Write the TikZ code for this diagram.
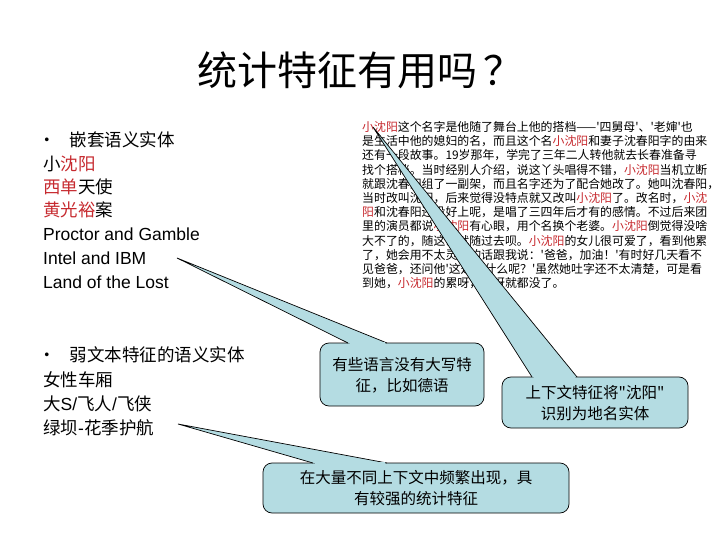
\documentclass[tikz,border=0pt]{standalone}
\usepackage{fontspec}
\setmainfont{Liberation Sans}
\newfontfamily\cjk{Noto Sans CJK SC}
\definecolor{cfill}{HTML}{B4DCE2}
\definecolor{hred}{HTML}{C62A2F}
\newcommand{\rd}[1]{\textcolor{hred}{#1}}
\begin{document}
\begin{tikzpicture}[x=1pt,y=-1pt,
  para/.style={anchor=west,inner sep=0,font=\cjk\fontsize{11.9}{12}\selectfont},
  lft/.style={anchor=west,inner sep=0,font=\cjk\fontsize{17.5}{20}\selectfont},
  lat/.style={anchor=west,inner sep=0,font=\fontsize{17.5}{20}\selectfont},
  ctext/.style={align=center,inner sep=0,font=\cjk\fontsize{15.5}{21}\selectfont},
  cbox/.style={fill=cfill,draw=black,line width=0.7pt,rounded corners=9pt},
  cptr/.style={fill=cfill,draw=black,line width=0.7pt,line join=miter}]
\useasboundingbox (0,0) rectangle (720,540);
\node[font=\cjk\fontsize{40}{44}\selectfont,inner sep=0] (title) at (360,70) {统计特征有用吗\hspace{6pt}？};

% left texts
\node[lft] (b1) at (38,140) {•\hspace{14pt}嵌套语义实体};
\node[lft] (l1) at (43,164) {小\rd{沈阳}};
\node[lft] (l2) at (43,187) {\rd{西单}天使};
\node[lft] (l3) at (43,210) {\rd{黄光裕}案};
\node[lat] (l4) at (43,234) {Proctor and Gamble};
\node[lat] (l5) at (43,258) {Intel and IBM};
\node[lat] (l6) at (43,282) {Land of the Lost};
\node[lft] (b2) at (38,355) {•\hspace{14pt}弱文本特征的语义实体};
\node[lft] (m1) at (43,380) {女性车厢};
\node[lft] (m2) at (43,404) {大{\fontspec{Liberation Sans}S/}飞人{\fontspec{Liberation Sans}/}飞侠};
\node[lft] (m3) at (43,428) {绿坝{\fontspec{Liberation Sans}-}花季护航};

% paragraph
\node[para] (p1) at (362,127) {\rd{小沈阳}这个名字是他随了舞台上他的搭档——'四舅母'、'老婶'也};
\node[para] (p2) at (362,141.2) {是生活中他的媳妇的名，而且这个名\rd{小沈阳}和妻子沈春阳字的由来};
\node[para] (p3) at (362,155.4) {还有一段故事。19岁那年，学完了三年二人转他就去长春准备寻};
\node[para] (p4) at (362,169.6) {找个搭档。当时经别人介绍，说这丫头唱得不错，\rd{小沈阳}当机立断};
\node[para] (p5) at (362,183.8) {就跟沈春阳组了一副架，而且名字还为了配合她改了。她叫沈春阳，};
\node[para] (p6) at (362,198) {当时改叫沈阳，后来觉得没特点就又改叫\rd{小沈阳}了。改名时，\rd{小沈}};
\node[para] (p7) at (362,212.2) {\rd{阳}和沈春阳还没好上呢，是唱了三四年后才有的感情。不过后来团};
\node[para] (p8) at (362,226.4) {里的演员都说\rd{小沈阳}有心眼，用个名换个老婆。\rd{小沈阳}倒觉得没啥};
\node[para] (p9) at (362,240.6) {大不了的，随这么就随过去呗。\rd{小沈阳}的女儿很可爱了，看到他累};
\node[para] (p10) at (362,254.8) {了，她会用不太灵光的话跟我说：'爸爸，加油！'有时好几天看不};
\node[para] (p11) at (362,269) {见爸爸，还问他'这是干什么呢？'虽然她吐字还不太清楚，可是看};
\node[para] (p12) at (362,283.2) {到她，\rd{小沈阳}的累呀，烦呀就都没了。};

% callout 1
\coordinate (t1) at (177,258);
\draw[cbox] (320,343) rectangle (484,406);
\draw[cptr] (348,343) -- (t1) -- (387,343);
\fill[cfill] (349.5,344.2) -- (385.5,344.2) -- (385,342) -- (350,342) -- cycle;
\node[ctext] (c1) at (402,375) {有些语言没有大写特\\征，比如德语};

% callout 2
\coordinate (t2) at (373,127);
\draw[cbox] (502,377) rectangle (688,428);
\draw[cptr] (532,377) -- (t2) -- (577,377);
\fill[cfill] (533.5,378.2) -- (575.5,378.2) -- (575,376) -- (534,376) -- cycle;
\node[ctext] (c2) at (595,403) {上下文特征将"沈阳"\\识别为地名实体};

% callout 3
\coordinate (t3) at (178,424);
\draw[cbox] (263,463) rectangle (569,513);
\draw[cptr] (313,463) -- (t3) -- (387,463);
\fill[cfill] (315,464.2) -- (385.5,464.2) -- (385,462) -- (315.5,462) -- cycle;
\node[ctext] (c3) at (416,488) {在大量不同上下文中频繁出现，具\\有较强的统计特征};
\end{tikzpicture}
\end{document}
